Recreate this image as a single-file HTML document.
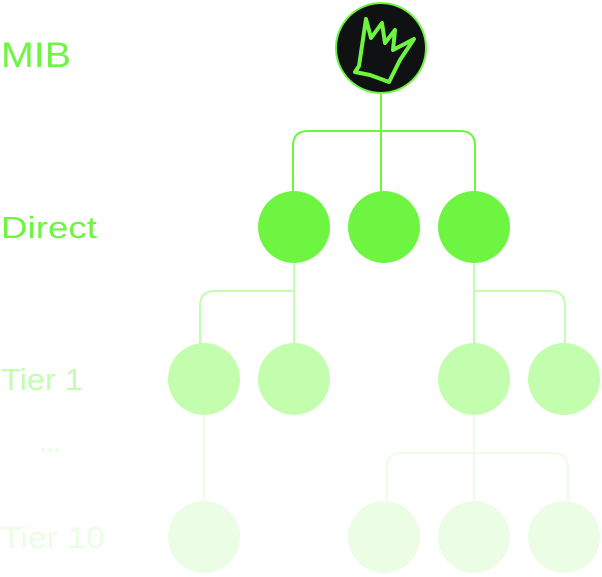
<!DOCTYPE html>
<html><head><style>
body{margin:0;background:#fff;}
svg{display:block;font-family:"Liberation Sans",sans-serif;}
</style></head><body>
<svg width="602" height="577" viewBox="0 0 602 577">
<g fill="none" stroke-width="2">
<path d="M381 94V191M293 191V146Q293 131 308 131H460Q475 131 475 146V191" stroke="#6ef542"/>
<path d="M294 262V343M294 291H215Q200 291 200 306V343M474 262V343M474 291H550Q565 291 565 306V343" stroke="#c3fdae"/>
<path d="M204 415V500M474 415V500M387 500V468Q387 453 402 453H553Q568 453 568 468V500" stroke="#ebfde4"/>
</g>
<circle cx="381" cy="48" r="45" fill="#0f1112" stroke="#6ef542" stroke-width="2"/>
<path d="M359 66 L366 19 L371 38 L382 23 L385 43 L395 30 L393 50 L414 39 L400 60 L389 82 L370 75 L355 72 Z" fill="none" stroke="#6ef542" stroke-width="4" stroke-linejoin="round"/>
<g fill="#6ef542"><circle cx="294" cy="227" r="36"/><circle cx="384" cy="227" r="36"/><circle cx="474" cy="227" r="36"/></g>
<g fill="#c3fdae"><circle cx="204" cy="379" r="36"/><circle cx="294" cy="379" r="36"/><circle cx="474" cy="379" r="36"/><circle cx="564" cy="379" r="36"/></g>
<g fill="#ebfde4"><circle cx="204" cy="537" r="36"/><circle cx="384" cy="537" r="36"/><circle cx="474" cy="537" r="36"/><circle cx="564" cy="537" r="36"/></g>
<g fill="#ebfde4"><circle cx="43" cy="450" r="2"/><circle cx="50" cy="450" r="2"/><circle cx="57" cy="450" r="2"/></g>
<text x="1" y="67" font-size="35" fill="#6ef542" textLength="70" lengthAdjust="spacingAndGlyphs">MIB</text>
<text x="1" y="238" font-size="31" fill="#6ef542" textLength="96" lengthAdjust="spacingAndGlyphs">Direct</text>
<text x="1" y="390" font-size="31" fill="#c3fdae" textLength="82" lengthAdjust="spacingAndGlyphs">Tier 1</text>
<text x="1" y="548" font-size="31" fill="#ebfde4" textLength="104" lengthAdjust="spacingAndGlyphs">Tier 10</text>
</svg>
</body></html>
